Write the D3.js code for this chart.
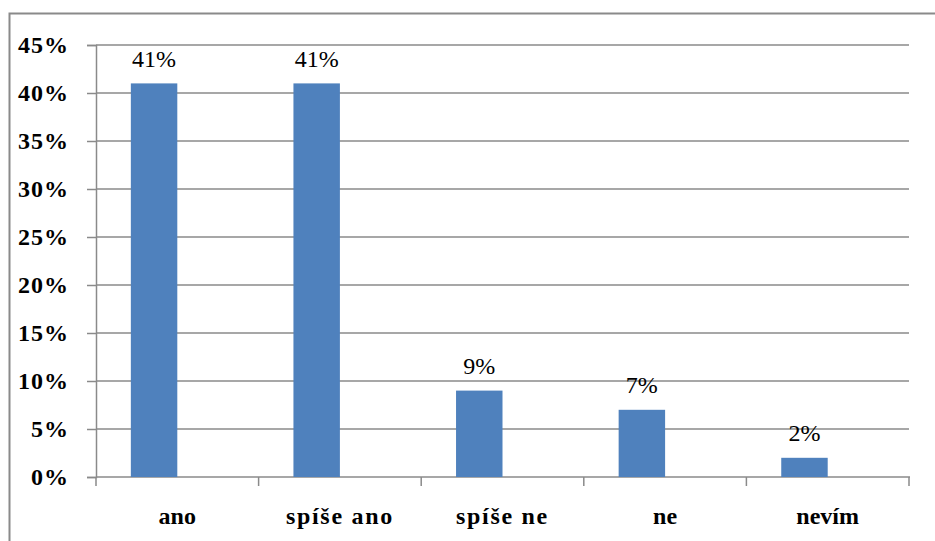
<!DOCTYPE html>
<html>
<head>
<meta charset="utf-8">
<script src="https://cdn.jsdelivr.net/npm/d3@7"></script>
</head>
<body style="margin:0">
<svg id="chart" width="935" height="541"></svg>
<script>
// Survey answers and their shares (percent)
const categories = ["ano", "spíše ano", "spíše ne", "ne", "nevím"];
const shares = [41, 41, 9, 7, 2];
const yTicks = [0, 5, 10, 15, 20, 25, 30, 35, 40, 45];
// Each category slot holds two bar positions; only the first one is filled
const slots = ["odpověď", "volné"];

const FONT = "Liberation Serif";
const svg = d3.select("#chart");
const W = 935, H = 541;
const plot = { left: 96, right: 909, top: 45, bottom: 477 };

// outer chart frame (continues past the right and bottom edges)
svg.append("rect")
  .attr("x", 9.5).attr("y", 13.5)
  .attr("width", W + 20).attr("height", H + 20)
  .attr("fill", "#fff")
  .attr("stroke", "#8a8a8a").attr("stroke-width", 2);

const x = d3.scaleBand().domain(categories)
  .range([plot.left, plot.right]).paddingInner(0).paddingOuter(0);

// gap of 150% of a bar width, split around the pair of slots
const bw = x.bandwidth() / 3.5;
const xs = d3.scaleBand().domain(slots)
  .range([0.75 * bw, 2.75 * bw]).padding(0);

const y = d3.scaleLinear().domain([0, 45]).range([plot.bottom, plot.top]);

const gridColor = "#8a8a8a";

// horizontal gridlines
svg.append("g").selectAll("line").data(yTicks.filter(t => t > 0)).join("line")
  .attr("x1", plot.left).attr("x2", plot.right)
  .attr("y1", d => y(d)).attr("y2", d => y(d))
  .attr("stroke", gridColor).attr("stroke-width", 1.5);

// y axis
const yAxis = svg.append("g")
  .attr("transform", `translate(${plot.left},0)`)
  .call(d3.axisLeft(y).tickValues(yTicks).tickSize(9).tickPadding(18)
    .tickFormat(d => d + "%"));
yAxis.attr("font-family", FONT).attr("font-size", 24).attr("font-weight", "bold");
yAxis.select(".domain").attr("stroke", gridColor).attr("stroke-width", 1.5);
yAxis.selectAll(".tick line").attr("stroke", gridColor).attr("stroke-width", 1.5);
yAxis.selectAll(".tick text")
  .attr("font-family", FONT)
  .attr("font-size", 24).attr("font-weight", "bold")
  .attr("letter-spacing", 1)
  .attr("fill", "#000").attr("dy", "0.33em");

// x axis with ticks on category boundaries
const xAxisG = svg.append("g").attr("transform", `translate(0,${plot.bottom})`);
xAxisG.append("line")
  .attr("x1", plot.left).attr("x2", plot.right + 1)
  .attr("stroke", gridColor).attr("stroke-width", 1.5);
const boundaries = categories.map(c => x(c)).concat([x(categories[categories.length - 1]) + x.bandwidth()]);
xAxisG.selectAll("line.tk").data(boundaries).join("line").attr("class", "tk")
  .attr("x1", d => d).attr("x2", d => d)
  .attr("y1", 0).attr("y2", 9)
  .attr("stroke", gridColor).attr("stroke-width", 1.5);
xAxisG.selectAll("text").data(categories).join("text")
  .attr("x", d => x(d) + x.bandwidth() / 2)
  .attr("y", 47)
  .attr("text-anchor", "middle")
  .attr("font-family", FONT)
  .attr("font-size", 24).attr("font-weight", "bold")
  .attr("letter-spacing", d => d.includes(" ") ? 1.7 : 0)
  .attr("fill", "#000")
  .text(d => d);

const rows = categories.map((c, i) => ({ cat: c, v: shares[i] }));

// bars
svg.append("g").selectAll("rect").data(rows).join("rect")
  .attr("x", d => x(d.cat) + xs(slots[0]))
  .attr("width", xs.bandwidth())
  .attr("y", d => y(d.v))
  .attr("height", d => y(0) - y(d.v))
  .attr("fill", "#4f81bd");

// value labels
svg.append("g").selectAll("text").data(rows).join("text")
  .attr("x", d => x(d.cat) + xs(slots[0]) + xs.bandwidth() / 2)
  .attr("y", d => y(d.v) - 16.5)
  .attr("text-anchor", "middle")
  .attr("font-family", FONT)
  .attr("font-size", 24)
  .attr("fill", "#000")
  .text(d => d.v + "%");
</script>
</body>
</html>
